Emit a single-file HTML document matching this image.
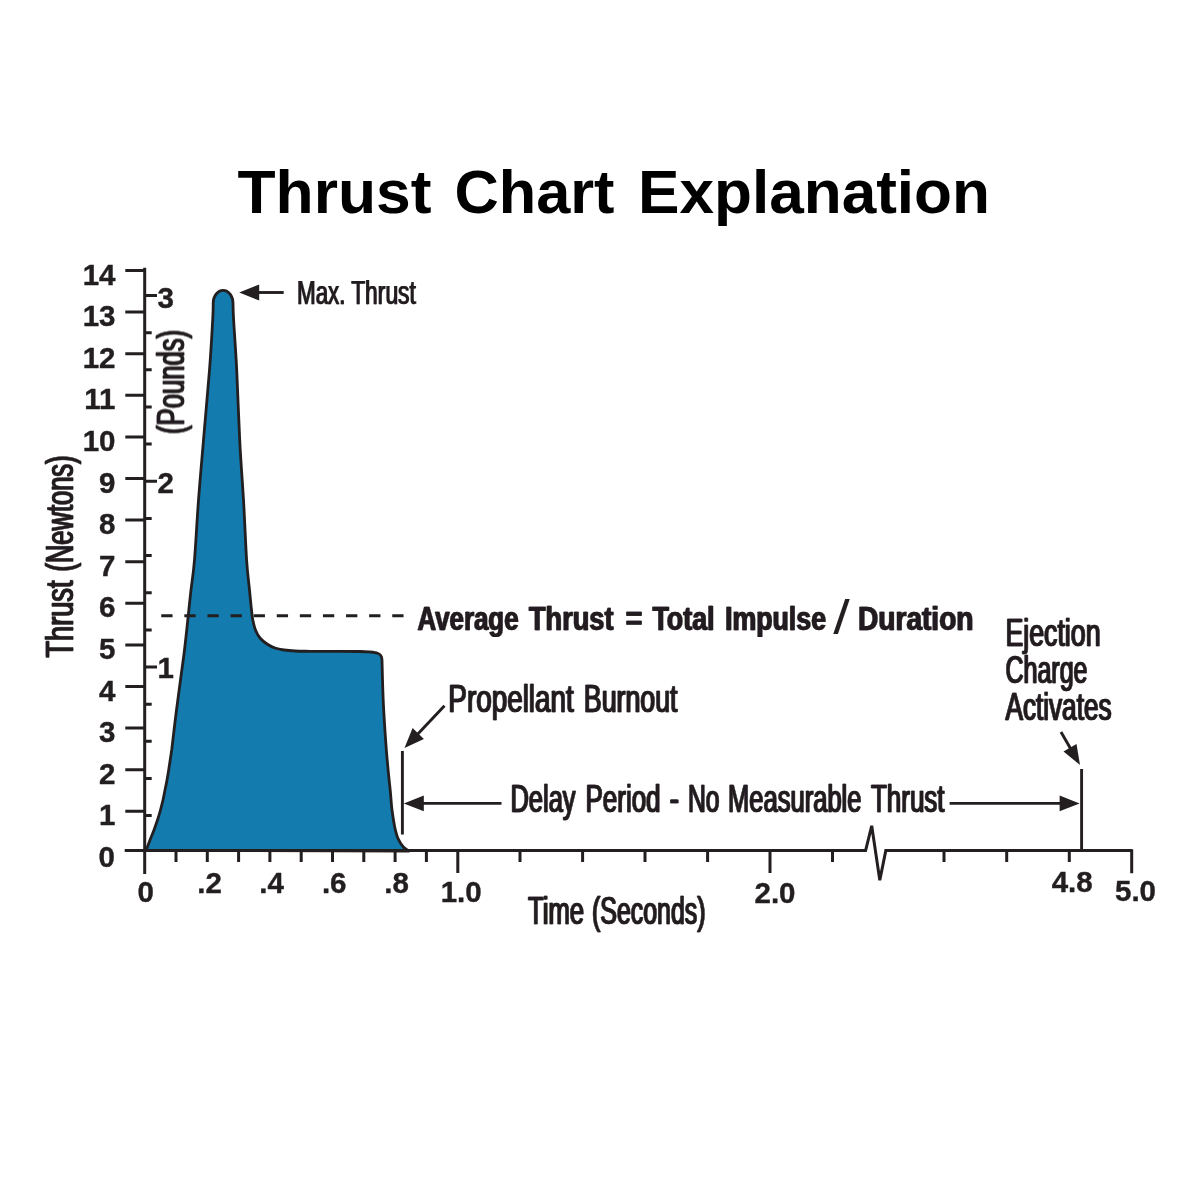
<!DOCTYPE html>
<html lang="en"><head><meta charset="utf-8"><title>Thrust Chart Explanation</title>
<style>
html,body{margin:0;padding:0;background:#fff;width:1200px;height:1200px;overflow:hidden}
svg{display:block}
text{font-family:"Liberation Sans",Arial,Helvetica,sans-serif;fill:#231f20}
.num{font-weight:bold;font-size:29.5px;stroke:#231f20;stroke-width:.4px;stroke-linejoin:round}
.cond{font-size:38px;filter:url(#fat1);stroke:#231f20;stroke-width:.7px;stroke-linejoin:round}
.condb{font-size:34px;font-weight:bold;filter:url(#fat1);stroke:#231f20;stroke-width:.4px;stroke-linejoin:round}
.title{font-weight:bold;font-size:62px;fill:#000}
.ln{stroke:#231f20;fill:none;stroke-width:3}
</style></head><body>
<svg width="1200" height="1200" viewBox="0 0 1200 1200">
<rect width="1200" height="1200" fill="#fff"/>
<defs>
<filter id="fat1" x="-5%" y="-20%" width="110%" height="140%"><feOffset dx="1" dy="0" result="a"/><feMerge><feMergeNode in="SourceGraphic"/><feMergeNode in="a"/></feMerge></filter>
</defs>

<text class="title" y="213"><tspan x="237.5" textLength="194" lengthAdjust="spacingAndGlyphs">Thrust</tspan> <tspan x="454.5" textLength="160" lengthAdjust="spacingAndGlyphs">Chart</tspan> <tspan x="638" textLength="352" lengthAdjust="spacingAndGlyphs">Explanation</tspan></text>
<path d="M146.0 850.5C146.7 848.8 148.7 843.4 150.0 840.0C151.3 836.6 152.8 833.3 154.0 830.0C155.2 826.7 156.4 823.3 157.5 820.0C158.6 816.7 159.6 813.3 160.5 810.0C161.4 806.7 162.2 803.3 163.0 800.0C163.8 796.7 164.3 793.3 165.0 790.0C165.7 786.7 166.4 783.3 167.0 780.0C167.6 776.7 168.2 773.3 168.7 770.0C169.2 766.7 169.7 763.3 170.2 760.0C170.7 756.7 171.2 753.3 171.7 750.0C172.1 746.7 172.1 746.7 172.9 740.0C173.7 733.3 175.2 720.0 176.5 710.0C177.8 700.0 179.2 690.0 180.5 680.0C181.8 670.0 183.3 660.0 184.5 650.0C185.7 640.0 186.8 629.5 187.8 620.0C188.8 610.5 189.5 603.3 190.6 593.3C191.7 583.3 193.2 575.5 194.5 560.0C195.8 544.5 197.0 520.0 198.5 500.0C200.0 480.0 201.7 461.7 203.5 440.0C205.3 418.3 207.9 390.3 209.5 370.0C211.1 349.7 212.2 329.2 212.8 318.0C213.4 306.8 213.1 305.5 213.2 303.0C213.2 296 217.6 290.3 223.1 290.3C228.6 290.3 233 296 233 303C233.1 305.5 232.9 306.8 233.5 318.0C234.1 329.2 235.7 349.7 236.7 370.0C237.7 390.3 238.6 418.3 239.7 440.0C240.8 461.7 242.3 480.0 243.5 500.0C244.7 520.0 245.6 545.0 246.6 560.0C247.6 575.0 248.7 581.7 249.5 590.0C250.3 598.3 250.9 605.0 251.5 610.0C252.1 615.0 252.1 616.7 252.8 620.0C253.5 623.3 254.3 627.0 255.5 630.0C256.7 633.0 258.1 635.7 260.0 638.0C261.9 640.3 264.5 642.3 267.0 644.0C269.5 645.7 272.2 647.0 275.0 648.0C277.8 649.0 280.7 649.5 284.0 650.0C287.3 650.5 290.7 650.8 295.0 651.0C299.3 651.2 302.5 651.2 310.0 651.3C317.5 651.4 331.7 651.4 340.0 651.4C348.3 651.4 355.0 651.4 360.0 651.5C365.0 651.6 367.2 651.8 370.0 652.0C372.8 652.2 375.8 652.8 377.0 653.0C380.5 654 382 656 382 660C382.2 666.7 382.6 686.7 383.2 700.0C383.8 713.3 384.9 730.0 385.6 740.0C386.3 750.0 386.7 754.2 387.2 760.0C387.7 765.8 388.1 770.0 388.6 775.0C389.1 780.0 389.6 784.2 390.2 790.0C390.8 795.8 391.2 803.8 392.0 810.0C392.8 816.2 393.8 822.6 394.8 827.5C395.9 832.4 396.8 835.9 398.3 839.2C399.8 842.5 401.8 845.3 403.6 847.3C405.4 849.3 408.1 850.4 409.0 851.0Z" fill="#137bae" stroke="#231f20" stroke-width="2.8" stroke-linejoin="round"/>
<path class="ln" d="M144.7 267.8V874M124.7 850.6H865.6L871.7 825.8L879.8 880.2L885.8 850.6H1131.7M125.3 811.3H144.7M125.3 769.7H144.7M125.3 728.1H144.7M125.3 686.5H144.7M125.3 644.9H144.7M125.3 603.3H144.7M125.3 561.7H144.7M125.3 520.1H144.7M125.3 478.5H144.7M125.3 436.9H144.7M125.3 395.3H144.7M125.3 353.7H144.7M125.3 312.1H144.7M125.3 270.5H144.7M144.7 815.6H151.7M144.7 778.5H151.7M144.7 741.3H151.7M144.7 704.2H151.7M144.7 667.0H157.0M144.7 629.9H151.7M144.7 592.8H151.7M144.7 555.6H151.7M144.7 518.5H151.7M144.7 481.3H157.0M144.7 444.1H151.7M144.7 407.0H151.7M144.7 369.8H151.7M144.7 332.7H151.7M144.7 295.5H157.0M176.0 850.5V862M207.3 850.5V862M238.6 850.5V862M269.9 850.5V862M301.2 850.5V862M332.5 850.5V862M363.8 850.5V862M395.1 850.5V862M426.4 850.5V862M457.8 850.5V873M520.0 850.5V862M582.6 850.5V862M645.0 850.5V862M707.6 850.5V862M832.5 850.5V862M944.0 850.5V862M1006.7 850.5V862M1069.3 850.5V862M770 850.5V873M1131.7 849.2V873.3"/>
<path d="M402.4 751V834.5M1081.6 769V850.5" stroke="#231f20" stroke-width="2.9" fill="none"/>
<path d="M161.25 615.7H404" stroke="#231f20" stroke-width="2.9" fill="none" stroke-dasharray="11.3 11.8"/>
<path d="M283.7 292.5L258.2 292.5" stroke="#231f20" stroke-width="2.9" fill="none"/><path d="M239.2 292.5L259.2 284.5L259.2 300.5Z" fill="#231f20"/>
<path d="M444.5 705.8L417.6 734.2" stroke="#231f20" stroke-width="2.9" fill="none"/><path d="M404.5 748.0L412.6 728.1L423.9 738.9Z" fill="#231f20"/>
<path d="M501.5 803.4L422.8 803.4" stroke="#231f20" stroke-width="2.9" fill="none"/><path d="M403.8 803.4L423.8 795.6L423.8 811.2Z" fill="#231f20"/>
<path d="M949.6 803.4L1060.6 803.4" stroke="#231f20" stroke-width="2.9" fill="none"/><path d="M1079.6 803.4L1059.6 811.2L1059.6 795.6Z" fill="#231f20"/>
<path d="M1061.0 732.0L1070.5 748.5" stroke="#231f20" stroke-width="2.9" fill="none"/><path d="M1080.0 765.0L1063.5 751.4L1076.5 743.9Z" fill="#231f20"/>
<text class="num" text-anchor="end" x="115.5" y="825.4">1</text>
<text class="num" text-anchor="end" x="115.5" y="783.8">2</text>
<text class="num" text-anchor="end" x="115.5" y="742.2">3</text>
<text class="num" text-anchor="end" x="115.5" y="700.6">4</text>
<text class="num" text-anchor="end" x="115.5" y="659.0">5</text>
<text class="num" text-anchor="end" x="115.5" y="617.4">6</text>
<text class="num" text-anchor="end" x="115.5" y="575.8">7</text>
<text class="num" text-anchor="end" x="115.5" y="534.2">8</text>
<text class="num" text-anchor="end" x="115.5" y="492.6">9</text>
<text class="num" text-anchor="end" x="115.5" y="451.0">10</text>
<text class="num" text-anchor="end" x="115.5" y="409.4">11</text>
<text class="num" text-anchor="end" x="115.5" y="367.8">12</text>
<text class="num" text-anchor="end" x="115.5" y="326.2">13</text>
<text class="num" text-anchor="end" x="115.5" y="284.6">14</text>
<text class="num" text-anchor="end" x="115" y="866.5">0</text>
<text class="num" x="157.5" y="307.8">3</text>
<text class="num" x="157.5" y="493.0">2</text>
<text class="num" x="157.5" y="677.8">1</text>
<text class="num" text-anchor="middle" x="145.7" y="902">0</text>
<text class="num" text-anchor="middle" x="209.5" y="893">.2</text>
<text class="num" text-anchor="middle" x="271.6" y="893">.4</text>
<text class="num" text-anchor="middle" x="334.2" y="893">.6</text>
<text class="num" text-anchor="middle" x="396.6" y="893">.8</text>
<text class="num" text-anchor="middle" x="461.2" y="902">1.0</text>
<text class="num" text-anchor="middle" x="775" y="902.5">2.0</text>
<text class="num" text-anchor="middle" x="1072.2" y="891.5">4.8</text>
<text class="num" text-anchor="middle" x="1135.5" y="900.5">5.0</text>
<text class="cond" y="304.3" style="font-size:34px;stroke-width:.25px"><tspan x="296.5" textLength="48.5" lengthAdjust="spacingAndGlyphs">Max.</tspan> <tspan x="350.7" textLength="64.6" lengthAdjust="spacingAndGlyphs">Thrust</tspan></text>
<text class="condb" y="629.5"><tspan x="417.0" textLength="101.0" lengthAdjust="spacingAndGlyphs">Average</tspan> <tspan x="528.5" textLength="84.5" lengthAdjust="spacingAndGlyphs">Thrust</tspan> <tspan x="625.0" textLength="17.0" lengthAdjust="spacingAndGlyphs">=</tspan> <tspan x="652.0" textLength="62.0" lengthAdjust="spacingAndGlyphs">Total</tspan> <tspan x="724.5" textLength="101.0" lengthAdjust="spacingAndGlyphs">Impulse</tspan></text>
<text x="833.3" y="634" style="font-size:48px" textLength="16.5" lengthAdjust="spacingAndGlyphs">/</text>
<text class="condb" y="629.5"><tspan x="857.5" textLength="115.5" lengthAdjust="spacingAndGlyphs">Duration</tspan></text>
<text class="cond" y="712.4"><tspan x="447.8" textLength="125.5" lengthAdjust="spacingAndGlyphs">Propellant</tspan> <tspan x="583.3" textLength="93.7" lengthAdjust="spacingAndGlyphs">Burnout</tspan></text>
<text class="cond" y="812.0"><tspan x="510.0" textLength="65.0" lengthAdjust="spacingAndGlyphs">Delay</tspan> <tspan x="585.0" textLength="75.0" lengthAdjust="spacingAndGlyphs">Period</tspan> <tspan x="669.0" textLength="9.5" lengthAdjust="spacingAndGlyphs">-</tspan> <tspan x="687.5" textLength="31.5" lengthAdjust="spacingAndGlyphs">No</tspan> <tspan x="727.5" textLength="133.5" lengthAdjust="spacingAndGlyphs">Measurable</tspan> <tspan x="870.5" textLength="73.5" lengthAdjust="spacingAndGlyphs">Thrust</tspan></text>
<text class="cond" y="923.6"><tspan x="527.5" textLength="56.0" lengthAdjust="spacingAndGlyphs">Time</tspan> <tspan x="591.5" textLength="113.5" lengthAdjust="spacingAndGlyphs">(Seconds)</tspan></text>
<text class="cond" y="646.4"><tspan x="1005.0" textLength="95.0" lengthAdjust="spacingAndGlyphs">Ejection</tspan></text>
<text class="cond" y="683.0"><tspan x="1005.0" textLength="82.0" lengthAdjust="spacingAndGlyphs">Charge</tspan></text>
<text class="cond" y="719.6"><tspan x="1005.0" textLength="106.0" lengthAdjust="spacingAndGlyphs">Activates</tspan></text>
<g transform="translate(73 658) rotate(-90)"><text class="cond" y="0.0"><tspan x="0.0" textLength="77.0" lengthAdjust="spacingAndGlyphs">Thrust</tspan> <tspan x="86.0" textLength="116.0" lengthAdjust="spacingAndGlyphs">(Newtons)</tspan></text></g>
<g transform="translate(184 434.5) rotate(-90)"><text class="cond" y="0.0"><tspan x="0.0" textLength="104.0" lengthAdjust="spacingAndGlyphs">(Pounds)</tspan></text></g>
</svg></body></html>
